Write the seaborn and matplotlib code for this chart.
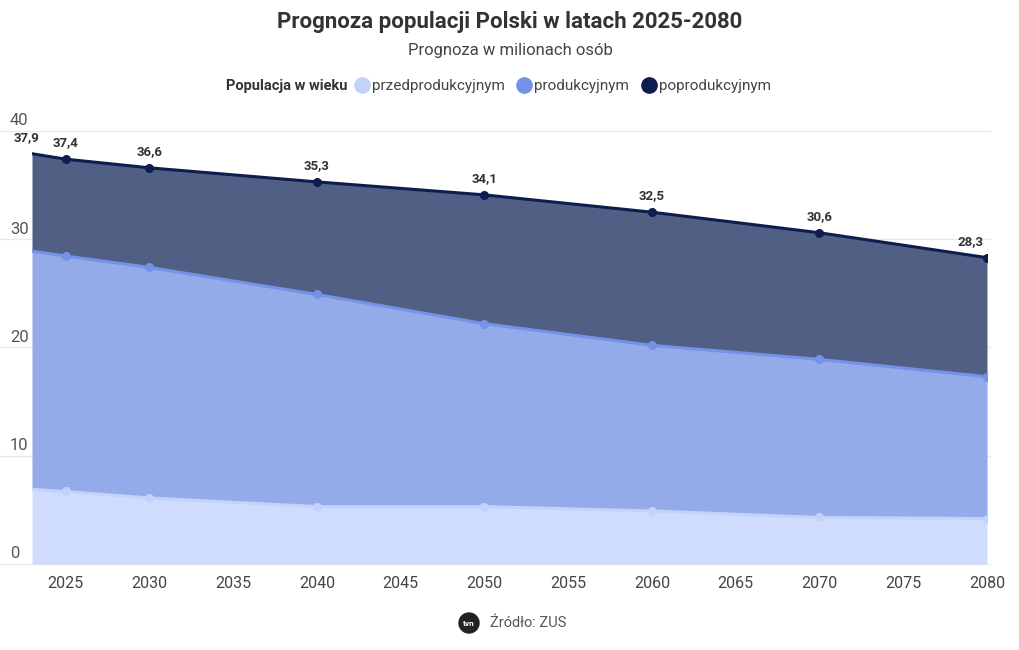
import numpy as np
import pandas as pd
import matplotlib
matplotlib.use("Agg")
import matplotlib.pyplot as plt
import matplotlib.transforms as mtransforms
from matplotlib.lines import Line2D
from matplotlib.patches import Ellipse
import seaborn as sns

# ---- data (millions) ----
years = [2023, 2025, 2030, 2040, 2050, 2060, 2070, 2080]
przedprodukcyjny = [6.9, 6.7, 6.1, 5.3, 5.3, 4.9, 4.3, 4.2]
produkcyjny = [22.0, 21.75, 21.3, 19.6, 16.9, 15.3, 14.6, 13.1]
poprodukcyjny = [9.0, 8.95, 9.2, 10.4, 11.9, 12.3, 11.7, 11.0]
totals = [37.9, 37.4, 36.6, 35.3, 34.1, 32.5, 30.6, 28.3]
x_ticks = [2025, 2030, 2035, 2040, 2045, 2050, 2055, 2060, 2065, 2070, 2075, 2080]
y_ticks = [0, 10, 20, 30, 40]
series_names = ["przedprodukcyjnym", "produkcyjnym", "poprodukcyjnym"]

fills = ["#cfdcfd", "#94abea", "#525f85"]
lines = ["#c4d2fa", "#7392e8", "#0e1d4e"]

sns.set_theme(style="white")
plt.rcParams["font.family"] = ["Roboto", "DejaVu Sans"]

df = pd.DataFrame({"year": years, "pre": przedprodukcyjny, "prod": produkcyjny, "post": poprodukcyjny})
df["c1"] = df["pre"]
df["c2"] = df["pre"] + df["prod"]
df["c3"] = df["c2"] + df["post"]

fig = plt.figure(figsize=(10.2, 6.5), dpi=100)
W, H = 1020, 650
ax = fig.add_axes([32 / W, 1 - 564 / H, (987 - 32) / W, (564 - 131) / H])

lower = np.zeros(len(df))
for i, col in enumerate(["c1", "c2", "c3"]):
    ax.fill_between(df["year"], lower, df[col], color=fills[i], linewidth=0, zorder=1 + i)
    lower = df[col].values

mask = df["year"] >= 2025
for i, col in enumerate(["c1", "c2", "c3"]):
    sns.lineplot(data=df, x="year", y=col, color=lines[i], linewidth=2.2, ax=ax, zorder=5 + i)
    ax.plot(df.loc[mask, "year"], df.loc[mask, col], "o", color=lines[i], markersize=5.5, zorder=6 + i)

ax.set_xlim(2023, 2080)
ax.set_ylim(0, 40)
ax.set_xlabel("")
ax.set_ylabel("")
for s in ax.spines.values():
    s.set_visible(False)
ax.set_yticks([])
ax.set_xticks(x_ticks)
ax.set_xticklabels([str(t) for t in x_ticks], fontsize=11.5, color="#444444")
ax.tick_params(axis="x", length=5, color="#dddddd", pad=4)

# gridlines and y labels
for yv in y_ticks:
    ax.plot([-0.045, 1.003], [yv, yv], transform=mtransforms.blended_transform_factory(ax.transAxes, ax.transData),
            color="#e8e8e8", linewidth=0.9, zorder=0, clip_on=False)
    off = mtransforms.offset_copy(mtransforms.blended_transform_factory(ax.transAxes, ax.transData),
                                  fig=fig, x=-22, y=10, units="dots")
    ax.text(0, yv, str(yv), transform=off, fontsize=12, color="#555555", ha="left", va="center")
ax.axhline(0, color="#dddddd", linewidth=1, zorder=10)

# value labels
for yr, t in zip(years, totals):
    dx = -4 if yr == 2023 else (-12 if yr == 2080 else 0)
    ax.annotate(f"{t:.1f}".replace(".", ","), (yr, t), xytext=(dx, 7), textcoords="offset points",
                ha="center", va="bottom", fontsize=9.5, fontweight="bold", color="#333333", zorder=20,
                annotation_clip=False)

# titles
fig.text(0.5, 1 - 22 / H, "Prognoza populacji Polski w latach 2025-2080", ha="center", va="center",
         fontsize=16, fontweight="bold", color="#333333")
fig.text(0.5, 1 - 51 / H, "Prognoza w milionach osób", ha="center", va="center", fontsize=12, color="#444444")

# legend
fig.text(348 / W, 1 - 86 / H, "Populacja w wieku", ha="right", va="center", fontsize=10.5,
         fontweight="bold", color="#333333")
handles = [Line2D([], [], marker="o", linestyle="", markersize=11, color=c) for c in lines]
fig.legend(handles, series_names, loc="center left", bbox_to_anchor=(354 / W, 1 - 86 / H), ncol=3,
           frameon=False, fontsize=11, handlelength=1.0, handletextpad=0.15, columnspacing=0.8,
           labelcolor="#444444", borderaxespad=0, borderpad=0)

# source
logo = Ellipse((469 / W, 1 - 623 / H), 20 / W, 20 / H, transform=fig.transFigure, color="#222222")
fig.patches.append(logo)
fig.text(469 / W, 1 - 623 / H, "tvn", ha="center", va="center", fontsize=6, color="white", fontweight="bold")
fig.text(490 / W, 1 - 623 / H, "Źródło: ZUS", ha="left", va="center", fontsize=10.5, color="#555555")

fig.savefig("out.png", dpi=100, facecolor="white")
